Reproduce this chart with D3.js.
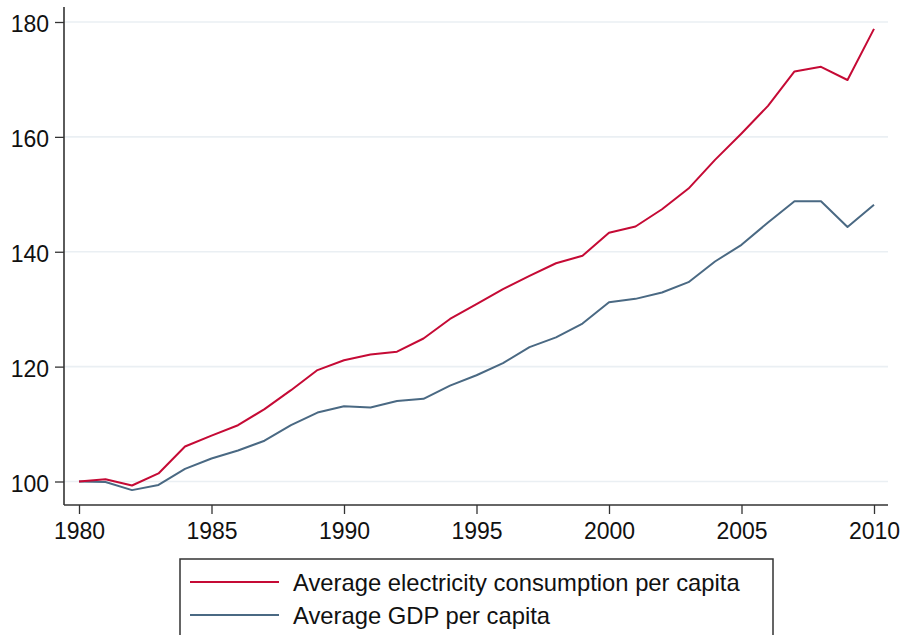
<!DOCTYPE html>
<html><head><meta charset="utf-8">
<script src="https://cdn.jsdelivr.net/npm/d3@7"></script>
<style>body{margin:0;background:#fff}svg{display:block}</style>
</head><body>
<script>
const years = d3.range(1980, 2011);
const electricity = [100,100.4,99.3,101.4,106.1,108.0,109.8,112.6,115.9,119.4,121.1,122.1,122.6,124.9,128.3,130.9,133.5,135.8,138.0,139.3,143.3,144.4,147.4,151.0,156.0,160.6,165.4,171.4,172.2,169.9,178.8];
const gdp = [100,99.9,98.5,99.4,102.2,104.0,105.4,107.1,109.8,112.0,113.1,112.9,114.0,114.4,116.7,118.5,120.6,123.4,125.1,127.5,131.2,131.8,132.9,134.7,138.3,141.2,145.1,148.8,148.8,144.3,148.2];
const xTicks = [1980,1985,1990,1995,2000,2005,2010];
const yTicks = [100,120,140,160,180];
const seriesNames = ["Average electricity consumption per capita","Average GDP per capita"];
const colors = ["#c50a35","#4a6983"];

(function(){
const W=903,H=635;
const svg=d3.select("body").append("svg").attr("width",W).attr("height",H);
const font="'Liberation Sans', Arial, Helvetica, sans-serif";
const x=d3.scaleLinear().domain([1980,2010]).range([79,874]);
const y=d3.scaleLinear().domain([100,180]).range([481.5,22]);
const pL=64,pR=888,pB=505,pT=7;

svg.append("g").selectAll("line").data(yTicks).join("line")
 .attr("x1",pL).attr("x2",pR).attr("y1",d=>y(d)).attr("y2",d=>y(d))
 .attr("stroke","#eaeff3").attr("stroke-width",1.6);

const line=d3.line().x((d,i)=>x(years[i])).y(d=>y(d));
[gdp,electricity].forEach((s,k)=>{
  svg.append("path").attr("d",line(s)).attr("fill","none")
   .attr("stroke",colors[1-k]).attr("stroke-width",2).attr("stroke-linejoin","round");
});

const ya=d3.axisLeft(y).tickValues(yTicks).tickSize(9).tickPadding(6);
const gy=svg.append("g").attr("transform",`translate(${pL},0)`).call(ya);
gy.select(".domain").remove();
gy.append("line").attr("x1",0).attr("x2",0).attr("y1",pT).attr("y2",pB).attr("stroke","#333").attr("stroke-width",1.6);
const xa=d3.axisBottom(x).tickValues(xTicks).tickFormat(d3.format("d")).tickSize(9).tickPadding(6);
const gx=svg.append("g").attr("transform",`translate(0,${pB})`).call(xa);
gx.select(".domain").remove();
gx.append("line").attr("x1",pL).attr("x2",pR).attr("y1",0).attr("y2",0).attr("stroke","#333").attr("stroke-width",1.6);
[gx,gy].forEach(g=>{
  g.selectAll(".tick line").attr("stroke","#333").attr("stroke-width",1.3);
  g.selectAll(".tick text").attr("font-family",font).attr("font-size",23).attr("fill","#111");
});
gx.selectAll(".tick text").attr("y",33.5).attr("dy",0);
gy.selectAll(".tick text").attr("dy","0.42em");

const lg=svg.append("g");
lg.append("rect").attr("x",180).attr("y",559).attr("width",593).attr("height",90)
 .attr("fill","#fff").attr("stroke","#333").attr("stroke-width",1.5);
seriesNames.forEach((n,i)=>{
  const yy=582+i*33;
  lg.append("line").attr("x1",190).attr("x2",279).attr("y1",yy).attr("y2",yy).attr("stroke",colors[i]).attr("stroke-width",2);
  lg.append("text").attr("x",293).attr("y",yy+8.7).attr("font-family",font).attr("font-size",23.8).attr("fill","#111").text(n);
});
})();
</script>
</body></html>
